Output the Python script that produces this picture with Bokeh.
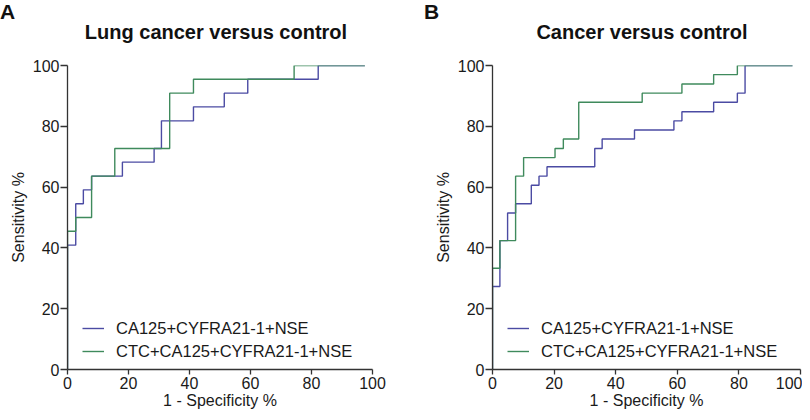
from bokeh.plotting import figure
from bokeh.models import Legend, LegendItem, Range1d, Div
from bokeh.layouts import row, column
from bokeh.embed import file_html
from bokeh.resources import INLINE

# ---- data (ROC points: 1-specificity %, sensitivity %) ----
letters = ["A", "B"]
a_title = "Lung cancer versus control"
b_title = "Cancer versus control"
series_names = ["CA125+CYFRA21-1+NSE", "CTC+CA125+CYFRA21-1+NSE"]
ticks = [0, 20, 40, 60, 80, 100]

a_blue_x = [0, 0, 2.7, 5.2, 7.9, 18.0, 28.4, 30.8, 41.3, 51.4, 59.1, 82.2, 97.5]
a_blue_y = [0, 40.9, 54.5, 59.1, 63.6, 68.2, 72.7, 81.8, 86.4, 90.9, 95.5, 100, 100]
a_green_x = [0, 0, 2.7, 7.9, 15.5, 33.5, 41.3, 74.3, 97.5]
a_green_y = [0, 45.5, 50.0, 63.6, 72.7, 90.9, 95.5, 100, 100]

b_blue_x = [0, 0, 2.4, 4.9, 7.5, 12.6, 15.1, 17.7, 33.2, 35.6, 46.1, 58.9, 61.5, 71.8, 79.5, 82.0, 97.4]
b_blue_y = [0, 27.3, 42.4, 51.5, 54.5, 60.6, 63.6, 66.7, 72.7, 75.8, 78.8, 81.8, 84.8, 87.9, 90.9, 100, 100]
b_green_x = [0, 0, 2.4, 7.5, 10.1, 20.3, 23.0, 28.0, 48.6, 61.5, 71.8, 79.5, 97.4]
b_green_y = [0, 33.3, 42.4, 63.6, 69.7, 72.7, 75.8, 87.9, 90.9, 93.9, 97.0, 100, 100]

BLUE = "#4b4ba3"
GREEN = "#3f8a5c"
FONT = "Liberation Sans"


def make_panel(bx, by, gx, gy, width, left, right):
    p = figure(width=width, height=362, x_range=Range1d(0, 100), y_range=Range1d(0, 100),
               output_backend="svg", toolbar_location=None,
               min_border_left=left, min_border_right=right,
               min_border_top=15, min_border_bottom=43)
    p.xgrid.visible = False
    p.ygrid.visible = False
    p.outline_line_color = None
    p.background_fill_color = "white"
    p.border_fill_color = "white"

    for ax in (p.xaxis[0], p.yaxis[0]):
        ax.ticker = ticks
        ax.minor_tick_line_color = None
        ax.major_tick_in = 0
        ax.axis_line_color = "#333333"
        ax.axis_line_width = 1.3
        ax.major_tick_line_color = "#333333"
        ax.major_tick_line_width = 1.3
        ax.major_label_text_font = FONT
        ax.major_label_text_font_size = "16px"
        ax.major_label_text_color = "#1a1a1a"
        ax.axis_label_text_font = FONT
        ax.axis_label_text_font_size = "16px"
        ax.axis_label_text_font_style = "normal"
        ax.axis_label_text_color = "#1a1a1a"

    p.yaxis.major_tick_out = 7
    p.yaxis.major_label_standoff = 1
    p.yaxis.axis_label = "Sensitivity %"
    p.yaxis.axis_label_standoff = 3
    p.xaxis.major_tick_out = 5
    p.xaxis.major_label_standoff = 2
    p.xaxis.axis_label = "1 - Specificity %"
    p.xaxis.axis_label_standoff = 0

    r1 = p.step(bx, by, mode="after", line_color=BLUE, line_width=1.4)
    r2 = p.step(gx, gy, mode="after", line_color=GREEN, line_width=1.4)

    legend = Legend(items=[LegendItem(label=series_names[0], renderers=[r1]),
                           LegendItem(label=series_names[1], renderers=[r2])],
                    location=(15, 8), margin=0, padding=0, spacing=3,
                    glyph_width=22, glyph_height=20, label_height=20,
                    label_standoff=12, label_text_font=FONT,
                    label_text_font_size="16.5px", label_text_color="#1a1a1a",
                    border_line_color=None, background_fill_alpha=0)
    p.add_layout(legend)
    return p


p1 = make_panel(a_blue_x, a_blue_y, a_green_x, a_green_y, 419, 67, 47)
p2 = make_panel(b_blue_x, b_blue_y, b_green_x, b_green_y, 383, 73, 2)

span = "position:absolute;white-space:nowrap;"
header_html = (
    "<div style=\"position:relative;width:802px;height:50px;"
    "font-family:'Liberation Sans',Arial,sans-serif;font-weight:bold;color:#111111;\">"
    f"<span style=\"{span}left:0px;top:1px;font-size:21px;line-height:21px;\">{letters[0]}</span>"
    f"<span style=\"{span}left:66px;width:300px;text-align:center;top:22px;"
    f"font-size:20px;line-height:20px;\">{a_title}</span>"
    f"<span style=\"{span}left:424px;top:1px;font-size:21px;line-height:21px;\">{letters[1]}</span>"
    f"<span style=\"{span}left:492px;width:300px;text-align:center;top:22px;"
    f"font-size:20px;line-height:20px;\">{b_title}</span>"
    "</div>"
)
header = Div(text=header_html, width=802, height=50, margin=0)

layout = column(header, row(p1, p2))
open("out.html", "w").write(file_html(layout, INLINE))
